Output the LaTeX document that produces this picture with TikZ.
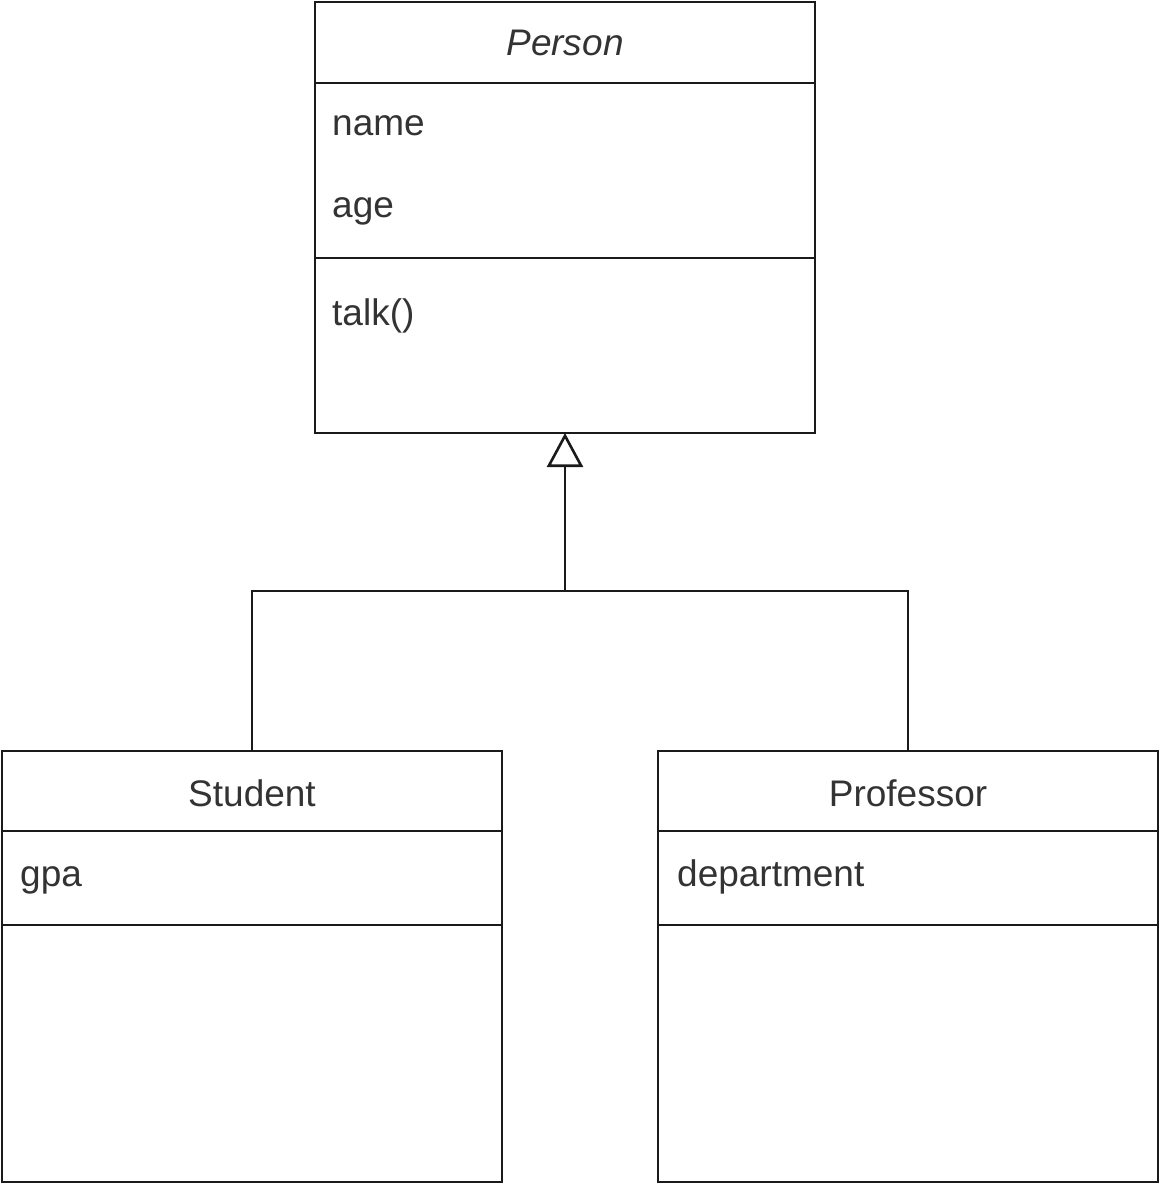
\documentclass[tikz,border=0pt]{standalone}
\usepackage{fontspec}
\setmainfont{Liberation Sans}
\usetikzlibrary{arrows.meta}
\definecolor{txt}{HTML}{333333}
\definecolor{ln}{HTML}{1A1A1A}
\begin{document}
\begin{tikzpicture}[x=1pt,y=-1pt,
  classbox/.style={draw=ln, line width=2.6pt, rectangle, inner sep=0pt, outer sep=0pt, minimum width=500pt, fill=white},
  lbl/.style={text=txt, font=\fontsize{37}{44}\selectfont, inner sep=0pt},
  divider/.style={draw=ln, line width=2.6pt},
  conn/.style={draw=ln, line width=2.6pt}]
\useasboundingbox (0,0) rectangle (1160,1184);
% Person
\node[classbox, minimum height=431pt, anchor=north west] (person) at (315,2) {};
\draw[divider] (315,83) -- (815,83);
\draw[divider] (315,258) -- (815,258);
\node[lbl, anchor=base, font=\fontsize{37}{44}\selectfont\itshape] (ptitle) at (565,55) {Person};
\node[lbl, anchor=base west] (pname) at (332,135) {name};
\node[lbl, anchor=base west] (page) at (332,217) {age};
\node[lbl, anchor=base west] (ptalk) at (332,325) {talk()};
% Student
\node[classbox, minimum height=431pt, anchor=north west] (student) at (2,751) {};
\draw[divider] (2,831) -- (502,831);
\draw[divider] (2,925) -- (502,925);
\node[lbl, anchor=base] (stitle) at (252,806) {Student};
\node[lbl, anchor=base west] (sgpa) at (20,886) {gpa};
% Professor
\node[classbox, minimum height=431pt, anchor=north west] (professor) at (658,751) {};
\draw[divider] (658,831) -- (1158,831);
\draw[divider] (658,925) -- (1158,925);
\node[lbl, anchor=base] (prtitle) at (908,806) {Professor};
\node[lbl, anchor=base west] (prdep) at (677,886) {department};
% Generalization
\coordinate (j) at (565,591);
\draw[conn] (student.north) |- (j);
\draw[conn] (professor.north) |- (j);
\draw[conn, -{Triangle[open, length=34pt, width=36pt, line width=2.6pt]}] (j) -- (person.south);
\end{tikzpicture}
\end{document}
